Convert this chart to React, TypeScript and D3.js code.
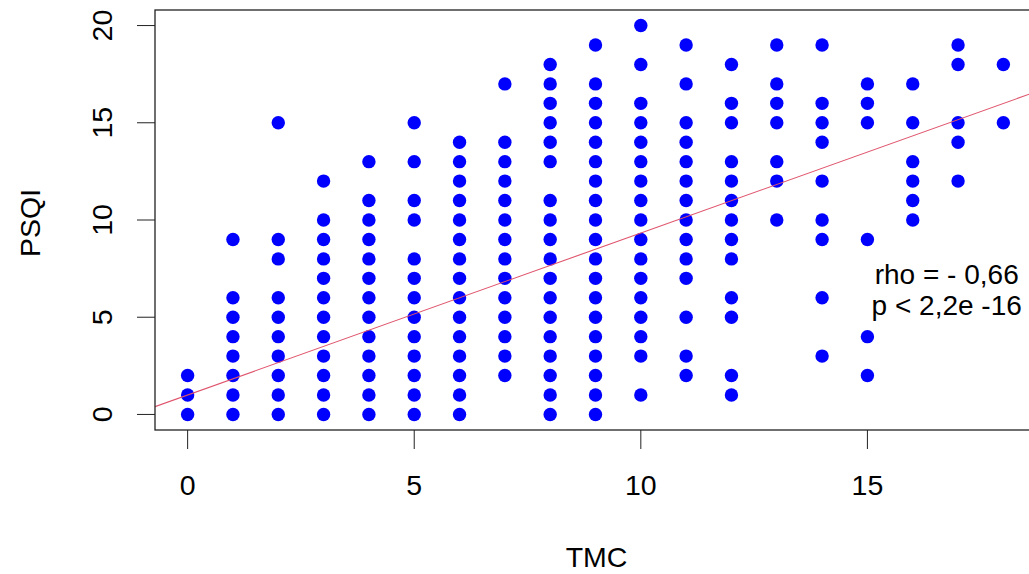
import React from "react";
import * as d3 from "d3";

// TMC values (x) and the distinct PSQI values observed at each TMC (y)
const tmcLevels = [0, 1, 2, 3, 4, 5, 6, 7, 8, 9, 10, 11, 12, 13, 14, 15, 16, 17, 18];
const psqiAtTmc: number[][] = [
  [0, 1, 2],
  [0, 1, 2, 3, 4, 5, 6, 9],
  [0, 1, 2, 3, 4, 5, 6, 8, 9, 15],
  [0, 1, 2, 3, 4, 5, 6, 7, 8, 9, 10, 12],
  [0, 1, 2, 3, 4, 5, 6, 7, 8, 9, 10, 11, 13],
  [0, 1, 2, 3, 4, 5, 6, 7, 8, 10, 11, 13, 15],
  [0, 1, 2, 3, 4, 5, 6, 7, 8, 9, 10, 11, 12, 13, 14],
  [2, 3, 4, 5, 6, 7, 8, 9, 10, 11, 12, 13, 14, 17],
  [0, 1, 2, 3, 4, 5, 6, 7, 8, 9, 10, 11, 13, 14, 15, 16, 17, 18],
  [0, 1, 2, 3, 4, 5, 6, 7, 8, 9, 10, 11, 12, 13, 14, 15, 16, 17, 19],
  [1, 3, 4, 5, 6, 7, 8, 9, 10, 11, 12, 13, 14, 15, 16, 18, 20],
  [2, 3, 5, 7, 8, 9, 10, 11, 12, 13, 14, 15, 17, 19],
  [1, 2, 5, 6, 8, 9, 10, 11, 12, 13, 15, 16, 18],
  [10, 12, 13, 15, 16, 17, 19],
  [3, 6, 9, 10, 12, 14, 15, 16, 19],
  [2, 4, 9, 15, 16, 17],
  [10, 11, 12, 13, 15, 17],
  [12, 14, 15, 18, 19],
  [15, 18],
];

const xTicks = [0, 5, 10, 15];
const yTicks = [0, 5, 10, 15, 20];
const lineIntercept = 1.0;
const lineSlope = 0.833;
const annotationLines = ["rho = - 0,66", "p < 2,2e -16"];
const annotationAt = { x: 16.75, y: 6.73 };
const xLabel = "TMC";
const yLabel = "PSQI";

const W = 1029;
const H = 574;
const plot = { left: 155, top: 10, right: 1036, bottom: 430 };
const FONT = "'Liberation Sans', Arial, Helvetica, sans-serif";
const FS = 28.5;
const ANN_FS = 28;
const ANN_GAP = 31.5;

export default function App() {
  const x = d3.scaleLinear().domain([-0.72, 18.72]).range([plot.left, plot.right]);
  const y = d3.scaleLinear().domain([-0.8, 20.8]).range([plot.bottom, plot.top]);

  const points = tmcLevels.flatMap((t, i) => psqiAtTmc[i].map((p) => ({ t, p })));
  const [x0, x1] = x.domain();
  const line = d3
    .line<number>()
    .x((d) => x(d))
    .y((d) => y(lineIntercept + lineSlope * d));

  const ax = x(annotationAt.x);
  const ay = y(annotationAt.y);

  return (
    <svg
      width={W}
      height={H}
      style={{ position: "absolute", left: 0, top: 0, background: "#fff" }}
      fontFamily={FONT}
    >
      <defs>
        <clipPath id="plotclip">
          <rect x={plot.left} y={plot.top} width={plot.right - plot.left} height={plot.bottom - plot.top} />
        </clipPath>
      </defs>
      <rect x={0} y={0} width={W} height={H} fill="#fff" />
      <g>
        {points.map((d, i) => (
          <circle key={i} cx={x(d.t)} cy={y(d.p)} r={6.7} fill="#0000FF" />
        ))}
      </g>
      <path
        d={line([x0, x1]) || ""}
        stroke="#DF536B"
        strokeWidth={1.1}
        fill="none"
        clipPath="url(#plotclip)"
      />
      <rect
        x={plot.left}
        y={plot.top}
        width={plot.right - plot.left}
        height={plot.bottom - plot.top}
        fill="none"
        stroke="#222"
        strokeWidth={1.3}
      />
      {/* x axis */}
      <g>
        {xTicks.map((t) => (
          <g key={t}>
            <line x1={x(t)} x2={x(t)} y1={plot.bottom} y2={plot.bottom + 19} stroke="#222" strokeWidth={1} />
            <text x={x(t)} y={495} textAnchor="middle" fontSize={FS} fill="#000">
              {t}
            </text>
          </g>
        ))}
      </g>
      {/* y axis */}
      <g>
        {yTicks.map((t) => (
          <g key={t}>
            <line x1={plot.left - 18} x2={plot.left} y1={y(t)} y2={y(t)} stroke="#222" strokeWidth={1} />
            <text
              transform={`translate(111.5, ${y(t)}) rotate(-90)`}
              textAnchor="middle"
              fontSize={FS}
              fill="#000"
            >
              {t}
            </text>
          </g>
        ))}
      </g>
      <text x={(plot.left + 1100) / 2 - 31} y={566.5} textAnchor="middle" fontSize={FS} fill="#000">
        {xLabel}
      </text>
      <text
        transform={`translate(40, ${(plot.top + plot.bottom) / 2 + 3}) rotate(-90)`}
        textAnchor="middle"
        fontSize={FS}
        fill="#000"
      >
        {yLabel}
      </text>
      {annotationLines.map((s, i) => (
        <text key={i} x={ax} y={ay + i * ANN_GAP} textAnchor="middle" fontSize={ANN_FS} fill="#000">
          {s}
        </text>
      ))}
    </svg>
  );
}
